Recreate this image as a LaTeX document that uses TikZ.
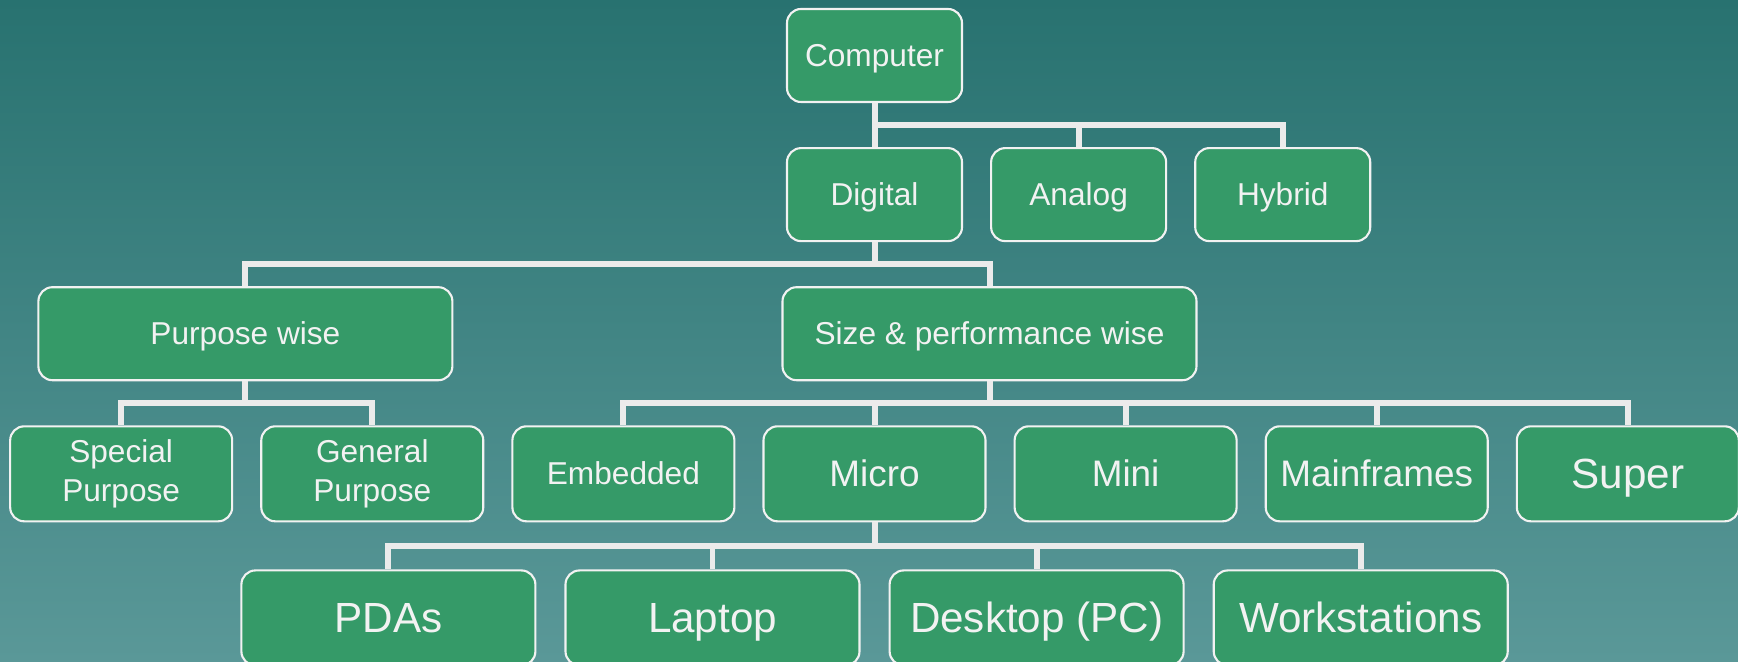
\documentclass[tikz,border=0pt]{standalone}
\usepackage{fontspec}
\setmainfont{Liberation Sans}
\usetikzlibrary{positioning}
\definecolor{BgTop}{HTML}{287270}
\definecolor{BgBottom}{HTML}{5A9898}
\definecolor{BoxGreen}{HTML}{359A68}
\definecolor{LineGray}{HTML}{EBEBEB}
\definecolor{TextWhite}{HTML}{F2F2F2}

\begin{document}
\begin{tikzpicture}[
  node distance=0.44cm and 0.27cm,
  box/.style={rectangle, rounded corners=4pt, draw=TextWhite, line width=0.6pt, fill=BoxGreen,
              text=TextWhite, align=center, inner sep=0pt, minimum height=0.93cm,
              font=\fontsize{9}{11}\selectfont},
  line9/.style={text height=8.1pt, text depth=1.9pt},
  line10/.style={font=\fontsize{10.5}{12}\selectfont, text height=9.5pt, text depth=2.2pt},
  line12/.style={font=\fontsize{12}{14}\selectfont, text height=10.9pt, text depth=2.5pt},
  small/.style={box, line9, minimum width=1.75cm},
  wide/.style={box, line9, minimum width=4.14cm},
  mid/.style={box, minimum width=2.22cm, minimum height=0.95cm},
  big/.style={box, line12, minimum width=2.94cm, minimum height=0.95cm},
  conn/.style={draw=LineGray, line width=1.7pt}
]

% background
\useasboundingbox (0,0) rectangle (17.38,6.61);
\shade[top color=BgTop, bottom color=BgBottom] (0,0) rectangle (17.38,6.61);

\node[small] (computer) at (8.745,6.055) {Computer};
\node[small, below=of computer]  (digital) {Digital};
\node[small, right=of digital]   (analog)  {Analog};
\node[small, right=of analog]    (hybrid)  {Hybrid};

\node[wide, below=of digital, xshift=1.15cm] (size)    {Size \& performance wise};
\node[wide, left=3.28cm of size]             (purpose) {Purpose wise};

\node[mid, line10, below=of size, xshift=-1.15cm] (micro) {Micro};
\node[mid, line9, left=of micro]     (embedded) {Embedded};
\node[mid, left=of embedded]         (general)  {General\\Purpose};
\node[mid, left=of general]          (special)  {Special\\Purpose};
\node[mid, line10, right=of micro]      (mini)       {Mini};
\node[mid, line10, right=of mini]       (mainframes) {Mainframes};
\node[mid, line12, right=of mainframes] (super)      {Super};

\node[big, below=0.47cm of micro, xshift=-1.62cm] (laptop) {Laptop};
\node[big, left=0.28cm of laptop]          (pdas)         {PDAs};
\node[big, right=0.28cm of laptop]         (desktop)      {Desktop (PC)};
\node[big, right=0.28cm of desktop]        (workstations) {Workstations};

% connectors
\foreach \c in {digital, analog, hybrid}
  \draw[conn] (computer.south) -- ++(0,-0.22) -| (\c.north);
\foreach \c in {purpose, size}
  \draw[conn] (digital.south) -- ++(0,-0.22) -| (\c.north);
\foreach \c in {special, general}
  \draw[conn] (purpose.south) -- ++(0,-0.22) -| (\c.north);
\foreach \c in {embedded, micro, mini, mainframes, super}
  \draw[conn] (size.south) -- ++(0,-0.22) -| (\c.north);
\foreach \c in {pdas, laptop, desktop, workstations}
  \draw[conn] (micro.south) -- ++(0,-0.235) -| (\c.north);

\end{tikzpicture}
\end{document}
